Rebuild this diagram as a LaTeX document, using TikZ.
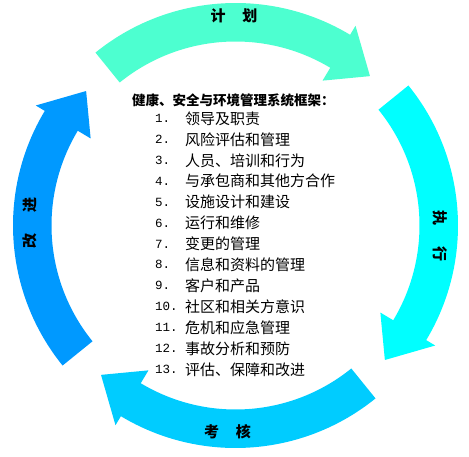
\documentclass[tikz,border=0pt]{standalone}
\usepackage{fontspec}
\newfontfamily\cjk{Noto Sans CJK SC}
\newfontfamily\numfont{Liberation Mono}
\definecolor{cplan}{HTML}{4DFFD0}
\definecolor{cdo}{HTML}{00FFFF}
\definecolor{ccheck}{HTML}{00CCFF}
\definecolor{cact}{HTML}{0099FF}
\begin{document}
\begin{tikzpicture}[x=1pt,y=1pt,
  lbl/.style={inner sep=0pt,font=\cjk\bfseries\fontsize{15}{15}\selectfont},
  ttl/.style={inner sep=0pt,anchor=west,font=\cjk\bfseries\fontsize{13.5}{14}\selectfont},
  num/.style={inner sep=0pt,anchor=west,font=\numfont\fontsize{12.5}{14}\selectfont},
  itm/.style={inner sep=0pt,anchor=west,font=\cjk\fontsize{15}{16}\selectfont}]
\useasboundingbox (0,0) rectangle (469,456);
\coordinate (c) at (235.5,230.5);
\def\Ro{222.5}
\def\Ri{184}
\foreach \a/\col in {129/cplan,39/cdo,-51/ccheck,219/cact}{
  \pgfmathsetmacro\b{\a-70}
  \pgfmathsetmacro\t{\a-81}
  \fill[\col] ([shift={(c)}]\a:\Ro) arc[start angle=\a, end angle=\b, radius=\Ro]
    -- ([shift={(c)}]\b:233) -- ([shift={(c)}]\t:201) -- ([shift={(c)}]\b:169)
    -- ([shift={(c)}]\b:\Ri) arc[start angle=\b, end angle=\a, radius=\Ri] -- cycle;
}
\node[lbl] (plan) at (234,440) {计\hspace{17pt}划};
\node[lbl,rotate=-90] (do) at (440,220) {执\hspace{21pt}行};
\node[lbl] (check) at (227.5,24) {考\hspace{17pt}核};
\node[lbl,rotate=90] (act) at (30,233) {改\hspace{21pt}进};
\node[ttl] (title) at (132,356) {健康、安全与环境管理系统框架：};
\foreach \i/\txt in {1/领导及职责,2/风险评估和管理,3/人员、培训和行为,4/与承包商和其他方合作,5/设施设计和建设,6/运行和维修,7/变更的管理,8/信息和资料的管理,9/客户和产品,10/社区和相关方意识,11/危机和应急管理,12/事故分析和预防,13/评估、保障和改进}{
  \pgfmathsetmacro\yy{456-(118.5+20.9*(\i-1))}
  \node[num] (n\i) at (155,\yy) {\i.};
  \node[itm] (t\i) at (185,\yy) {\txt};
}
\end{tikzpicture}
\end{document}
